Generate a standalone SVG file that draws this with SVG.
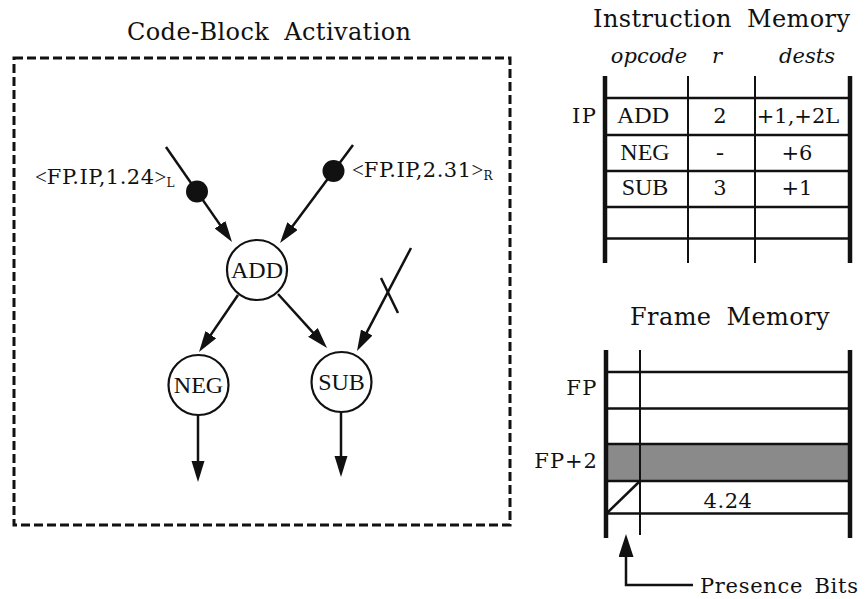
<svg xmlns="http://www.w3.org/2000/svg" width="865" height="599" viewBox="0 0 865 599">
  <style>
    .title { font-family: "DejaVu Serif", serif; font-size: 24px; letter-spacing: 0.4px; word-spacing: 7px; fill: #111; }
    .lbl { font-family: "DejaVu Serif", serif; font-size: 21px; fill: #111; }
    .ital { font-family: "DejaVu Serif", serif; font-style: italic; font-size: 21px; fill: #111; }
    .op { font-family: "Liberation Serif", serif; font-size: 24px; fill: #111; }
    .tok { font-family: "DejaVu Serif", serif; font-size: 21px; letter-spacing: 0.5px; fill: #111; }
    .br { font-family: "Liberation Serif", serif; letter-spacing: 0; }
    .node circle { fill: #fff; stroke: #111; stroke-width: 2.2; }
    .edge { stroke: #111; stroke-width: 2.5; fill: none; }
    .thick { stroke: #111; stroke-width: 4.5; }
    .thin { stroke: #111; stroke-width: 2; }
    .rule { stroke: #111; stroke-width: 2.5; }
  </style>
  <defs>
    <marker id="arrow" markerUnits="userSpaceOnUse" markerWidth="24" markerHeight="14" refX="15" refY="6.5" orient="auto">
      <path d="M0,0 L21,6.5 L0,13 z" fill="#111"/>
    </marker>
    <marker id="arrowBig" markerUnits="userSpaceOnUse" markerWidth="26" markerHeight="18" refX="17" refY="7.5" orient="auto">
      <path d="M0,0 L23,7.5 L0,15 z" fill="#111"/>
    </marker>
  </defs>
  <rect width="865" height="599" fill="#fff"/>

  <!-- Code-block activation frame -->
  <text class="title" x="127" y="40">Code-Block Activation</text>
  <rect x="14" y="58" width="496" height="467" fill="none" stroke="#111" stroke-width="3" stroke-dasharray="9 4"/>

  <!-- connectors -->
  <g id="connectors">
    <line class="edge" x1="166" y1="147" x2="228.6" y2="237.1" marker-end="url(#arrow)"/>
    <line class="edge" x1="353" y1="145" x2="283.6" y2="238.2" marker-end="url(#arrow)"/>
    <line class="edge" x1="238" y1="295" x2="202.4" y2="347.1" marker-end="url(#arrow)"/>
    <line class="edge" x1="278" y1="294" x2="323" y2="343.6" marker-end="url(#arrow)"/>
    <line class="edge" x1="411" y1="248" x2="359.8" y2="345.7" marker-end="url(#arrow)"/>
    <line class="edge" x1="381" y1="278" x2="398" y2="313"/>
    <line class="edge" x1="198" y1="415" x2="198" y2="476" marker-end="url(#arrow)"/>
    <line class="edge" x1="341" y1="412" x2="341" y2="471" marker-end="url(#arrow)"/>
    <!-- tokens on the input arcs -->
    <circle cx="197" cy="191.5" r="11" fill="#111"/>
    <circle cx="333.5" cy="171" r="11" fill="#111"/>
    <text class="tok" x="35" y="184"><tspan class="br">&lt;</tspan>FP.IP,1.24<tspan class="br">&gt;</tspan><tspan font-size="12" dy="3">L</tspan></text>
    <text class="tok" x="352" y="177"><tspan class="br">&lt;</tspan>FP.IP,2.31<tspan class="br">&gt;</tspan><tspan font-size="12" dy="3">R</tspan></text>
  </g>

  <!-- nodes -->
  <g id="node-add" class="node">
    <circle cx="257" cy="270" r="30"/>
    <text class="op" x="257" y="278" text-anchor="middle">ADD</text>
  </g>
  <g id="node-neg" class="node">
    <circle cx="198.5" cy="385" r="30"/>
    <text class="op" x="198.5" y="393" text-anchor="middle">NEG</text>
  </g>
  <g id="node-sub" class="node">
    <circle cx="341.5" cy="382" r="30"/>
    <text class="op" x="341.5" y="390" text-anchor="middle">SUB</text>
  </g>

  <!-- Instruction memory -->
  <g id="instruction-memory">
    <text class="title" x="593" y="27">Instruction Memory</text>
    <text class="ital" x="649" y="63" text-anchor="middle">opcode</text>
    <text class="ital" x="717" y="63" text-anchor="middle">r</text>
    <text class="ital" x="807" y="63" text-anchor="middle">dests</text>
    <line class="thick" x1="605" y1="76" x2="605" y2="263"/>
    <line class="thick" x1="850" y1="76" x2="850" y2="263"/>
    <line class="thin" x1="688" y1="76" x2="688" y2="263"/>
    <line class="thin" x1="755" y1="76" x2="755" y2="263"/>
    <line class="rule" x1="605" y1="98" x2="850" y2="98"/>
    <line class="rule" x1="605" y1="135" x2="850" y2="135"/>
    <line class="rule" x1="605" y1="171" x2="850" y2="171"/>
    <line class="rule" x1="605" y1="207" x2="850" y2="207"/>
    <line class="rule" x1="605" y1="238.5" x2="850" y2="238.5"/>
    <text class="lbl" x="572" y="123" letter-spacing="1.5">IP</text>
    <text class="op" x="643" y="123" font-size="22" text-anchor="middle">ADD</text>
    <text class="lbl" x="720" y="123" text-anchor="middle">2</text>
    <text class="lbl" x="798" y="123" text-anchor="middle">+1,+2L</text>
    <text class="op" x="645" y="160" font-size="22" text-anchor="middle">NEG</text>
    <text class="op" x="720" y="160" font-size="22" text-anchor="middle">-</text>
    <text class="lbl" x="797" y="160" text-anchor="middle">+6</text>
    <text class="op" x="645" y="195" font-size="22" text-anchor="middle">SUB</text>
    <text class="lbl" x="720" y="195" text-anchor="middle">3</text>
    <text class="lbl" x="797" y="195" text-anchor="middle">+1</text>
  </g>

  <!-- Frame memory -->
  <g id="frame-memory">
    <text class="title" x="630" y="325">Frame Memory</text>
    <rect x="606" y="444" width="244" height="37" fill="#8a8a8a"/>
    <line class="rule" x1="606" y1="372" x2="850" y2="372" stroke-width="3"/>
    <line class="rule" x1="606" y1="408.5" x2="850" y2="408.5"/>
    <line class="rule" x1="606" y1="444" x2="850" y2="444"/>
    <line class="rule" x1="606" y1="481" x2="850" y2="481"/>
    <line class="rule" x1="606" y1="513.5" x2="850" y2="513.5"/>
    <line class="thin" x1="640" y1="350" x2="640" y2="535"/>
    <line class="rule" x1="607" y1="513" x2="640" y2="481"/>
    <line class="thick" x1="606" y1="350" x2="606" y2="538"/>
    <line class="thick" x1="850" y1="350" x2="850" y2="538"/>
    <text class="lbl" x="598" y="395" text-anchor="end" letter-spacing="1.5">FP</text>
    <text class="lbl" x="598" y="468" text-anchor="end" letter-spacing="1">FP+2</text>
    <text class="lbl" x="728" y="508" text-anchor="middle" letter-spacing="0.5">4.24</text>
  </g>

  <!-- presence bits callout -->
  <g id="presence-bits">
    <path class="edge" d="M693,585 L626,585 L626,540" marker-end="url(#arrowBig)"/>
    <text class="lbl" x="700" y="593" letter-spacing="0.7" word-spacing="4">Presence Bits</text>
  </g>
</svg>
